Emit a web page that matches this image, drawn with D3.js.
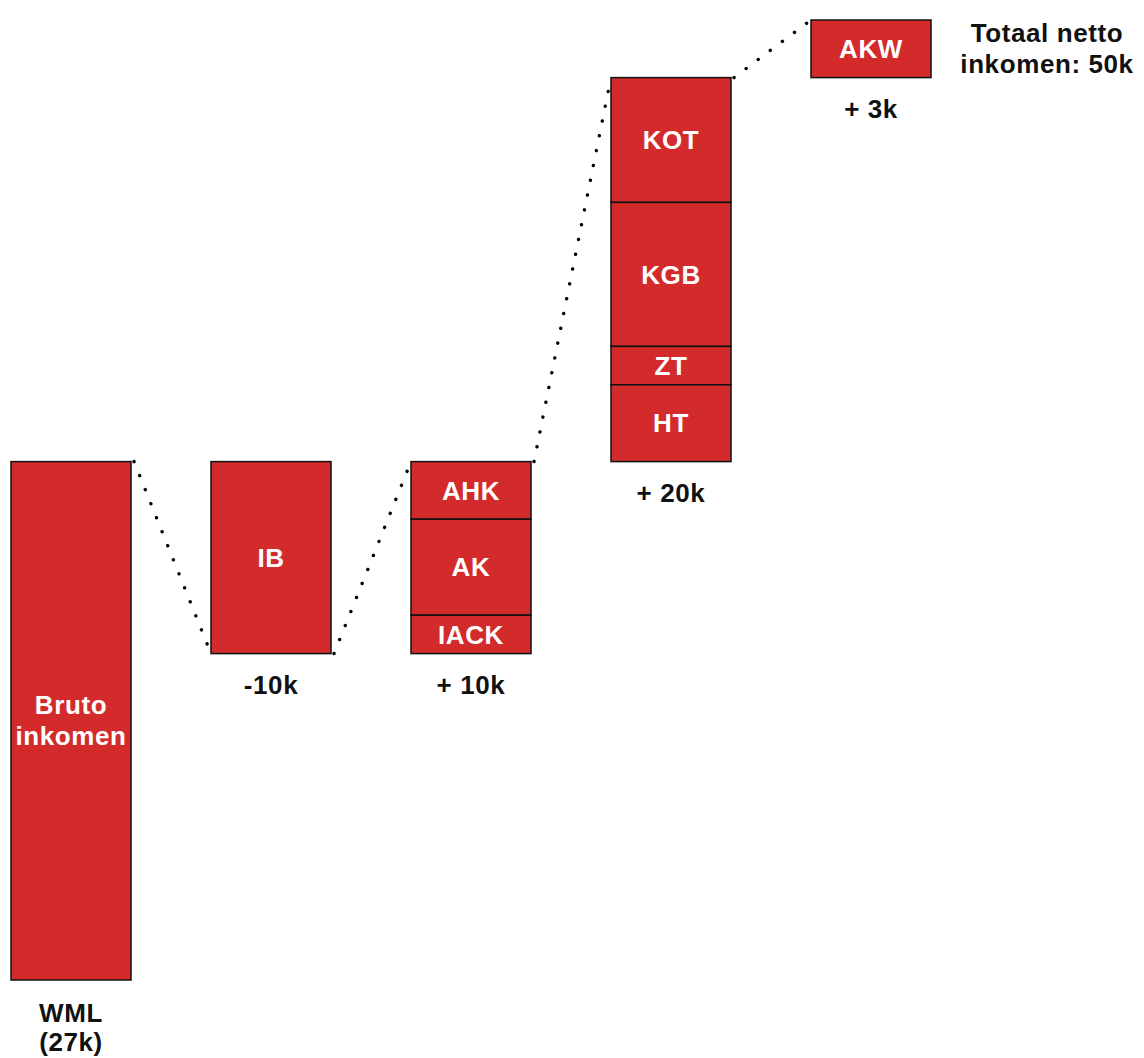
<!DOCTYPE html>
<html>
<head>
<meta charset="utf-8">
<script src="https://cdn.jsdelivr.net/npm/d3@7/dist/d3.min.js"></script>
<style>
  html, body { margin: 0; padding: 0; background: #fff; }
  svg { display: block; }
  text { font-family: "Liberation Sans", Arial, Helvetica, sans-serif; font-weight: bold; letter-spacing: 0.6px; }
</style>
</head>
<body>
<svg id="chart" width="1144" height="1058"></svg>
<script>
// Waterfall: from gross income (WML) to total net income, in thousands of euros.
const steps = ["bruto", "ib", "kortingen", "toeslagen", "akw"];
const stepValues = [27, -10, 10, 20, 3];
const stepLabels = [["WML", "(27k)"], ["-10k"], ["+ 10k"], ["+ 20k"], ["+ 3k"]];

// Components inside each step, listed from top to bottom.
const segmentNames = [
  [["Bruto", "inkomen"]],
  [["IB"]],
  [["AHK"], ["AK"], ["IACK"]],
  [["KOT"], ["KGB"], ["ZT"], ["HT"]],
  [["AKW"]]
];
const segmentValues = [
  [27],
  [10],
  [3, 5, 2],
  [6.5, 7.5, 2, 4],
  [3]
];

const totalLabel = ["Totaal netto", "inkomen: "];

const fill = "#d32b2b";
const fontSize = 26;
const lineHeight = 31;

const svg = d3.select("#chart");

const x = d3.scaleBand().domain(steps).range([11, 931]).paddingInner(0.4).paddingOuter(0);
const y = d3.scaleLinear().domain([0, 50]).range([980, 20]);

// running totals before / after each step
const after = d3.cumsum(stepValues);
const before = after.map((v, i) => v - stepValues[i]);

// Bar extents (top value, bottom value) for each step
const bars = steps.map((s, i) => ({
  key: s,
  top: Math.max(before[i], after[i]),
  bottom: Math.min(before[i], after[i]),
  i
}));

// Segments: stacked from the bar top downward
const segments = [];
bars.forEach(b => {
  let cur = b.top;
  segmentValues[b.i].forEach((v, j) => {
    segments.push({ key: b.key, hi: cur, lo: cur - v, name: segmentNames[b.i][j] });
    cur -= v;
  });
});

// Dotted connectors: from running total at the right edge to the next running total at the left edge
const connectors = d3.range(steps.length - 1).map(i => ({
  x1: x(steps[i]) + x.bandwidth(), y1: after[i],
  x2: x(steps[i + 1]), y2: after[i + 1]
}));

svg.append("g").selectAll("line").data(connectors).join("line")
  .attr("x1", d => d.x1 + 3).attr("y1", d => y(d.y1))
  .attr("x2", d => d.x2).attr("y2", d => y(d.y2))
  .attr("stroke", "#000").attr("stroke-width", 3.4)
  .attr("stroke-linecap", "round")
  .attr("stroke-dasharray", "0.1 15");

const seg = svg.append("g").selectAll("g").data(segments).join("g");
seg.append("rect")
  .attr("x", d => x(d.key))
  .attr("y", d => y(d.hi))
  .attr("width", x.bandwidth())
  .attr("height", d => y(d.lo) - y(d.hi))
  .attr("fill", fill)
  .attr("stroke", "#111")
  .attr("stroke-width", 1.5);

seg.append("text")
  .attr("fill", "#fff")
  .attr("text-anchor", "middle")
  .attr("font-size", fontSize)
  .each(function (d) {
    const cx = x(d.key) + x.bandwidth() / 2;
    const cy = (y(d.hi) + y(d.lo)) / 2;
    const n = d.name.length;
    d3.select(this).selectAll("tspan").data(d.name).join("tspan")
      .attr("x", cx)
      .attr("y", (t, k) => cy + (k - (n - 1) / 2) * lineHeight)
      .attr("dy", "0.35em")
      .text(t => t);
  });

// Step labels below each bar
svg.append("g").selectAll("text").data(bars).join("text")
  .attr("fill", "#111")
  .attr("text-anchor", "middle")
  .attr("font-size", fontSize)
  .each(function (b) {
    const cx = x(b.key) + x.bandwidth() / 2;
    const multi = stepLabels[b.i].length > 1;
    const base = y(b.bottom) + (multi ? 33 : 31);
    d3.select(this).selectAll("tspan").data(stepLabels[b.i]).join("tspan")
      .attr("x", cx)
      .attr("y", (t, k) => base + k * (multi ? 29 : lineHeight))
      .attr("dy", "0.35em")
      .text(t => t);
  });

// Total net income, to the right of the last bar
const total = d3.sum(stepValues);
const last = bars[bars.length - 1];
const lastMid = (y(last.top) + y(last.bottom)) / 2;
svg.append("text")
  .attr("fill", "#111")
  .attr("text-anchor", "middle")
  .attr("font-size", fontSize)
  .selectAll("tspan")
  .data([totalLabel[0], totalLabel[1] + total + "k"])
  .join("tspan")
  .attr("x", x(last.key) + x.bandwidth() + 116)
  .attr("y", (t, k) => lastMid + (k - 0.5) * lineHeight)
  .attr("dy", "0.35em")
  .text(t => t);
</script>
</body>
</html>
